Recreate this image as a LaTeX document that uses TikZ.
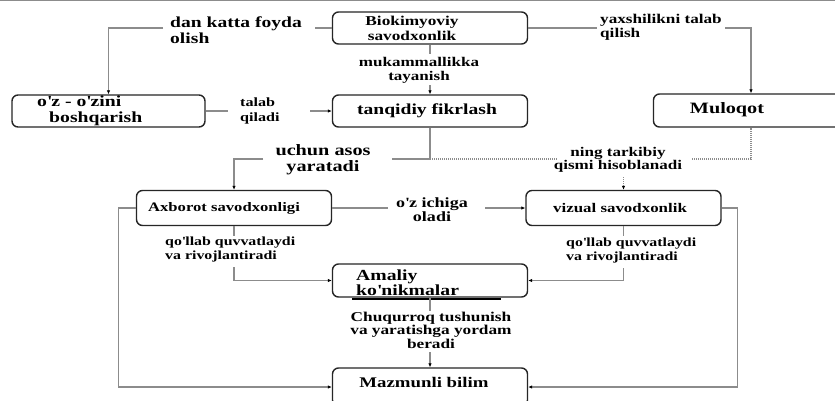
\documentclass[tikz,border=0pt]{standalone}
\usepackage{fontspec}
\setmainfont{Liberation Serif}[FakeStretch=1.28]
\usetikzlibrary{arrows.meta}
\newcommand{\qq}{\textquotesingle}
\begin{document}
\begin{tikzpicture}[x=1pt,y=-1pt,
  box/.style={draw=black!85,line width=1.4pt,rounded corners=6pt,fill=white,inner sep=0pt,minimum width=195pt},
  conn/.style={draw=black!45,line width=1.3pt},
  dotc/.style={draw=black!45,line width=1.1pt,dash pattern=on 1pt off 1pt},
  tip/.style={-{Latex[length=4pt,width=3.5pt,color=black]}},
  tx/.style={inner sep=0pt,align=center,text=black},
  fz/.style 2 args={font={\fontsize{#1}{#2}\selectfont\bfseries}}]
\useasboundingbox (0,0) rectangle (835,400);
\fill[white] (0,0) rectangle (835,400);
\clip (0,0) rectangle (835,400);
\draw[black!45,line width=1.5pt] (0,0.7) -- (835,0.7);

% boxes
\node[box,minimum height=32pt] (bio) at (430,28) {};
\node[box,minimum height=32pt,minimum width=193pt] (selfm) at (108.5,111) {};
\node[box,minimum height=32pt] (tanq) at (430,111) {};
\node[box,minimum height=33pt] (mul) at (751,110.5) {};
\node[box,minimum height=35pt] (axb) at (234,208) {};
\node[box,minimum height=35pt] (viz) at (623.5,208) {};
\node[box,minimum height=33pt] (am) at (430,280.5) {};
\node[box,minimum height=38pt] (maz) at (430,387) {};

% box texts
\node[tx,fz={13.5}{15}] (bioT) at (412,28) {Biokimyoviy\\savodxonlik};
\node[tx,fz={15.4}{16},align=left,anchor=west] (selfT) at (37,111) {o\qq z - o\qq zini\\\hspace*{12pt}boshqarish};
\node[tx,fz={15.3}{16}] (tanqT) at (427,111) {tanqidiy fikrlash};
\node[tx,fz={15.8}{16}] (mulT) at (727,110) {Muloqot};
\node[tx,fz={13}{14}] (axbT) at (224,208) {Axborot savodxonligi};
\node[tx,fz={13.2}{14}] (vizT) at (620,208) {vizual savodxonlik};
\node[tx,fz={15.4}{15},align=left,anchor=west] (amT) at (356,282.5) {Amaliy\\ko\qq nikmalar};
\node[tx,fz={14.7}{15}] (mazT) at (424,382) {Mazmunli bilim};
\draw[black,line width=1.6pt] (352,299) -- (501,299);

% labels
\node[tx,fz={15.3}{16},align=left,anchor=west] (l1) at (170,30) {dan katta foyda\\olish};
\node[tx,fz={13.3}{13.5}] (l2) at (419,70.5) {mukammallikka\\tayanish};
\node[tx,fz={13.4}{14},align=left,anchor=west] (l3) at (600,27.5) {yaxshilikni talab\\qilish};
\node[tx,fz={12.6}{15},align=left,anchor=west] (l4) at (240,110.5) {talab\\qiladi};
\node[tx,fz={15.8}{16}] (l5) at (323,160) {uchun asos\\yaratadi};
\node[tx,fz={13.3}{13.5}] (l6) at (618,160) {ning tarkibiy\\qismi hisoblanadi};
\node[tx,fz={14.1}{13.5}] (l7) at (432,209.5) {o\qq z ichiga\\oladi};
\node[tx,fz={12.4}{14},align=left,anchor=west] (l8) at (165,250) {qo\qq llab quvvatlaydi\\va rivojlantiradi};
\node[tx,fz={12.4}{14},align=left,anchor=west] (l9) at (566,251) {qo\qq llab quvvatlaydi\\va rivojlantiradi};
\node[tx,fz={13.5}{13.5}] (l10) at (431,330) {Chuqurroq tushunish\\va yaratishga yordam\\beradi};

% connectors
\coordinate (a1) at (315,28); \coordinate (a2) at (163,28);
\draw[conn] (bio.west) -- (a1);
\draw[conn,tip] (a2) -| (selfm.north);
\coordinate (b1) at (430,54); \coordinate (b2) at (430,85);
\draw[conn] (bio.south) -- (b1);
\draw[conn,tip] (b2) -- (tanq.north);
\coordinate (c1) at (597,28); \coordinate (c2) at (725,28);
\draw[conn] (bio.east) -- (c1);
\draw[conn,tip] (c2) -| (mul.north);
\coordinate (d1) at (228,111); \coordinate (d2) at (310,111);
\draw[conn] (selfm.east) -- (d1);
\draw[conn,tip] (d2) -- (tanq.west);
\coordinate (J) at (430,159);
\coordinate (e1) at (392,159); \coordinate (e2) at (263,159);
\draw[conn] (tanq.south) -- (J) -- (e1);
\draw[conn,tip] (e2) -| (axb.north);
\coordinate (g1) at (557,159); \coordinate (g2) at (692,159);
\draw[dotc] (J) -- (g1);
\draw[dotc] (g2) -| (mul.south);
\coordinate (g3) at (623.5,177);
\draw[dotc,tip] (g3) -- (viz.north);
\coordinate (h1) at (388,208); \coordinate (h2) at (485,208);
\draw[conn] (axb.east) -- (h1);
\draw[conn,tip] (h2) -- (viz.west);
\coordinate (i1) at (234,236); \coordinate (i2) at (234,267);
\draw[conn] (axb.south) -- (i1);
\draw[conn,tip] (i2) |- (am.west);
\coordinate (k1) at (623.5,236); \coordinate (k2) at (623.5,268);
\draw[conn] (viz.south) -- (k1);
\draw[conn,tip] (k2) |- (am.east);
\coordinate (m1) at (430,311); \coordinate (m2) at (430,352);
\draw[conn] (am.south) -- (m1);
\draw[conn,tip] (m2) -- (maz.north);
\draw[conn,tip] (axb.west) -- ++(-17,0) |- (maz.west);
\draw[conn,tip] (viz.east) -- ++(16,0) |- (maz.east);
\end{tikzpicture}
\end{document}
